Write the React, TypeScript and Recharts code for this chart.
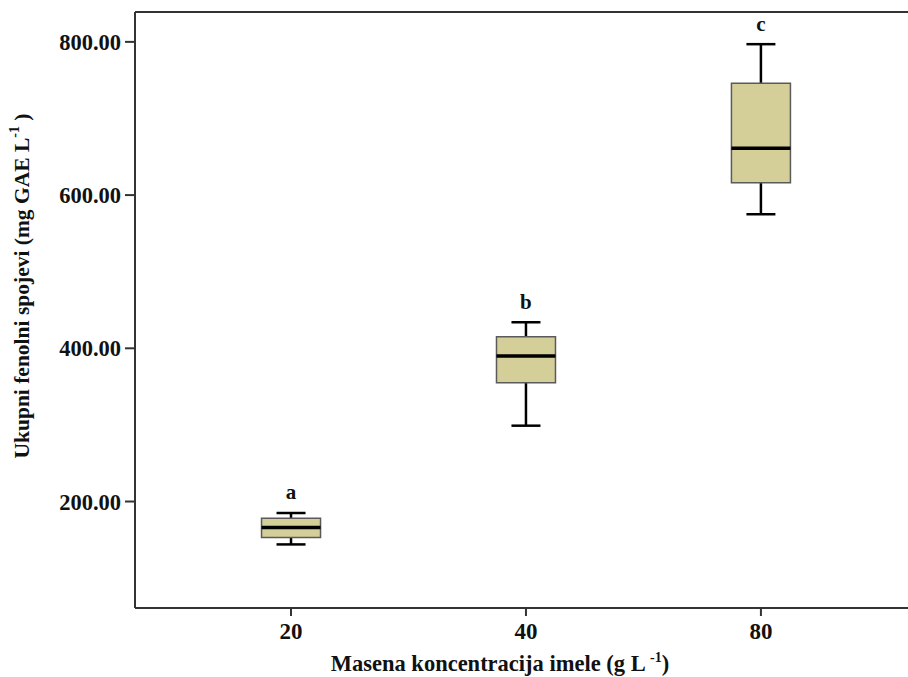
import React from 'react'
import {
  ComposedChart, Bar, Scatter, ErrorBar, XAxis, YAxis, ReferenceLine, LabelList,
} from 'recharts'

// concentration groups (g/L) and box plot stats per group
const categories = ['20', '40', '80']
const whiskerLow = [144, 299, 575]
const q1 = [153, 355, 616]
const medians = [166, 390, 661]
const q3 = [178, 415, 746]
const whiskerHigh = [185, 434, 797]
const groupLetters = ['a', 'b', 'c']
const yTicks = [200, 400, 600, 800]

const Y_DOMAIN: [number, number] = [61, 839]
const X_DOMAIN: [number, number] = [-0.664, 2.626]

const FONT = '"Liberation Serif", "Times New Roman", serif'
const INK = '#111'
const AXIS = '#333'
const BOX_W = 59

const boxRows = categories.map((c, i) => ({
  x: i,
  base: q1[i],
  box: q3[i] - q1[i],
}))

const medianPoints = categories.map((c, i) => ({
  x: i,
  y: medians[i],
  err: [medians[i] - whiskerLow[i], whiskerHigh[i] - medians[i]],
}))

const letterPoints = categories.map((c, i) => ({
  x: i,
  y: whiskerHigh[i],
  letter: groupLetters[i],
}))

const MedianLine = (props: any) => {
  const { cx, cy } = props
  if (cx == null || cy == null) return <g />
  return <line x1={cx - BOX_W / 2} x2={cx + BOX_W / 2} y1={cy} y2={cy} stroke="#000" strokeWidth={3.5} />
}

const YTitle = () => (
  <text
    x={22}
    y={286}
    transform="rotate(-90, 22, 286)"
    textAnchor="middle"
    dominantBaseline="central"
    fontFamily={FONT}
    fontWeight="bold"
    fontSize={21.5}
    fill={INK}
  >
    Ukupni fenolni spojevi (mg GAE L<tspan dy={-8} fontSize={14}>-1</tspan><tspan dy={8}> )</tspan>
  </text>
)

const XTitle = () => (
  <text
    x={500}
    y={671}
    textAnchor="middle"
    fontFamily={FONT}
    fontWeight="bold"
    fontSize={22.5}
    fill={INK}
  >
    Masena koncentracija imele (g L <tspan dy={-9} fontSize={14}>-1</tspan><tspan dy={9}>)</tspan>
  </text>
)

export default function App() {
  return (
    <div style={{ position: 'absolute', top: 0, left: 0, background: '#fff' }}>
      <ComposedChart
        width={908}
        height={677}
        data={boxRows}
        margin={{ top: 12, right: 0, bottom: 0, left: 0 }}
      >
        <XAxis
          dataKey="x"
          type="number"
          domain={X_DOMAIN}
          allowDataOverflow
          ticks={[0, 1, 2]}
          tickFormatter={(v) => categories[v] ?? ''}
          height={69}
          stroke={AXIS}
          strokeWidth={2}
          tickSize={8}
          tickMargin={7}
          tick={{ fill: INK, fontFamily: FONT, fontWeight: 'bold', fontSize: 23 }}
          label={{ content: () => <XTitle /> }}
        />
        <YAxis
          dataKey="y"
          type="number"
          domain={Y_DOMAIN}
          allowDataOverflow
          ticks={yTicks}
          tickFormatter={(v) => Number(v).toFixed(2)}
          width={135}
          stroke={AXIS}
          strokeWidth={2}
          tickSize={10}
          tickMargin={4}
          tick={{ fill: INK, fontFamily: FONT, fontWeight: 'bold', fontSize: 22.5 }}
          label={{ content: () => <YTitle /> }}
        />
        <ReferenceLine y={Y_DOMAIN[1]} stroke={AXIS} strokeWidth={2} />
        <Scatter data={medianPoints} shape={() => <g />} isAnimationActive={false} zIndex={100}>
          <ErrorBar dataKey="err" direction="y" width={14.5} stroke="#000" strokeWidth={2.5} zIndex={100} />
        </Scatter>
        <Bar dataKey="base" stackId="box" fill="none" barSize={BOX_W} isAnimationActive={false} zIndex={1000} />
        <Bar
          dataKey="box"
          stackId="box"
          fill="#d4cf99"
          stroke="#5a5a5a"
          strokeWidth={1.5}
          barSize={BOX_W}
          isAnimationActive={false}
          zIndex={1000}
        />
        <Scatter data={medianPoints} shape={MedianLine} isAnimationActive={false} zIndex={1100} />
        <Scatter data={letterPoints} shape={() => <g />} isAnimationActive={false} zIndex={1100}>
          <LabelList
            dataKey="letter"
            position="top"
            offset={9}
            fill={INK}
            fontFamily={FONT}
            fontWeight="bold"
            fontSize={21}
          />
        </Scatter>
      </ComposedChart>
    </div>
  )
}
